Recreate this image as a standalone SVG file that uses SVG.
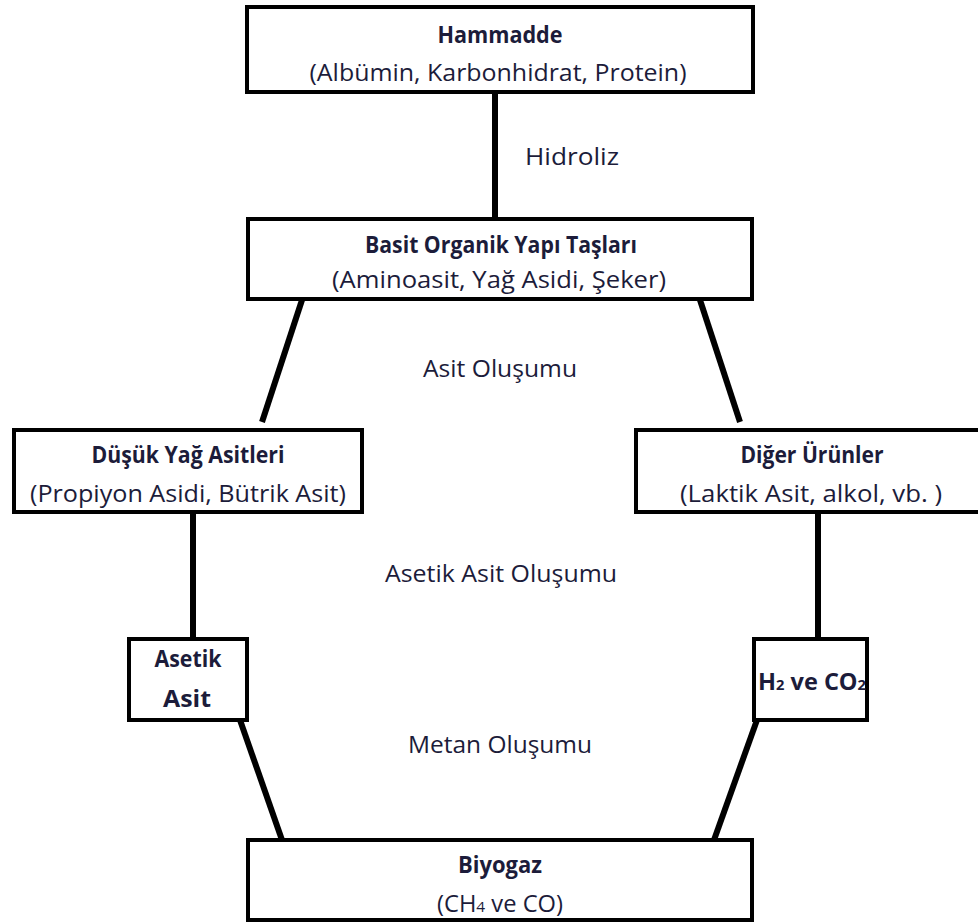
<svg xmlns="http://www.w3.org/2000/svg" width="978" height="922" viewBox="0 0 978 922">
  <style>
    .box { fill: #ffffff; stroke: #000000; stroke-width: 4; }
    .link { stroke: #000000; stroke-width: 6; fill: none; }
    text { font-family: "Open Sans", "Noto Sans", sans-serif; font-size: 23px; fill: #1c1c3a; text-anchor: middle; }
    .b { font-weight: bold; font-size: 24px; }
    .sub { font-size: 15px; }
  </style>
  <rect x="0" y="0" width="978" height="922" fill="#ffffff"/>

  <g id="connectors">
    <line class="link" x1="495" y1="92" x2="495" y2="218"/>
    <line class="link" x1="302" y1="300" x2="262" y2="422"/>
    <line class="link" x1="700" y1="300" x2="740" y2="422"/>
    <line class="link" x1="193" y1="512" x2="193" y2="638"/>
    <line class="link" x1="818" y1="512" x2="818" y2="638"/>
    <line class="link" x1="240" y1="720" x2="282" y2="840"/>
    <line class="link" x1="757" y1="720" x2="714" y2="840"/>
  </g>

  <g id="hammadde">
    <rect class="box" x="247" y="7" width="506" height="85"/>
    <text class="b" x="500" y="43" textLength="125" lengthAdjust="spacingAndGlyphs">Hammadde</text>
    <text x="498" y="81" textLength="377" lengthAdjust="spacingAndGlyphs">(Albümin, Karbonhidrat, Protein)</text>
  </g>

  <g id="hidroliz-label">
    <text x="572" y="165" textLength="94" lengthAdjust="spacingAndGlyphs">Hidroliz</text>
  </g>

  <g id="basit-organik">
    <rect class="box" x="248" y="219" width="504" height="80"/>
    <text class="b" x="501" y="253" textLength="272" lengthAdjust="spacingAndGlyphs">Basit Organik Yapı Taşları</text>
    <text x="499" y="288" textLength="334" lengthAdjust="spacingAndGlyphs">(Aminoasit, Yağ Asidi, Şeker)</text>
  </g>

  <g id="asit-olusumu-label">
    <text x="500" y="377" textLength="154" lengthAdjust="spacingAndGlyphs">Asit Oluşumu</text>
  </g>

  <g id="dusuk-yag-asitleri">
    <rect class="box" x="14" y="430" width="348" height="82"/>
    <text class="b" x="188" y="463" textLength="193" lengthAdjust="spacingAndGlyphs">Düşük Yağ Asitleri</text>
    <text x="188" y="502" textLength="316" lengthAdjust="spacingAndGlyphs">(Propiyon Asidi, Bütrik Asit)</text>
  </g>

  <g id="diger-urunler">
    <rect class="box" x="636" y="430" width="350" height="82"/>
    <text class="b" x="812" y="463" textLength="143" lengthAdjust="spacingAndGlyphs">Diğer Ürünler</text>
    <text x="811" y="502" textLength="262" lengthAdjust="spacingAndGlyphs">(Laktik Asit, alkol, vb. )</text>
  </g>

  <g id="asetik-asit-olusumu-label">
    <text x="501" y="582" textLength="232" lengthAdjust="spacingAndGlyphs">Asetik Asit Oluşumu</text>
  </g>

  <g id="asetik-asit">
    <rect class="box" x="129" y="639" width="118" height="81"/>
    <text class="b" x="188" y="667" textLength="67" lengthAdjust="spacingAndGlyphs">Asetik</text>
    <text class="b" x="187" y="707" textLength="48" lengthAdjust="spacingAndGlyphs">Asit</text>
  </g>

  <g id="h2-co2">
    <rect class="box" x="754" y="639" width="113" height="81"/>
    <text class="b" x="812" y="690" textLength="108" lengthAdjust="spacingAndGlyphs">H<tspan class="sub">2</tspan> ve CO<tspan class="sub">2</tspan></text>
  </g>

  <g id="metan-olusumu-label">
    <text x="500" y="753" textLength="184" lengthAdjust="spacingAndGlyphs">Metan Oluşumu</text>
  </g>

  <g id="biyogaz">
    <rect class="box" x="248" y="840" width="504" height="80"/>
    <text class="b" x="500" y="873" textLength="84" lengthAdjust="spacingAndGlyphs">Biyogaz</text>
    <text x="500" y="912" textLength="126" lengthAdjust="spacingAndGlyphs">(CH<tspan class="sub">4</tspan> ve CO)</text>
  </g>
</svg>
